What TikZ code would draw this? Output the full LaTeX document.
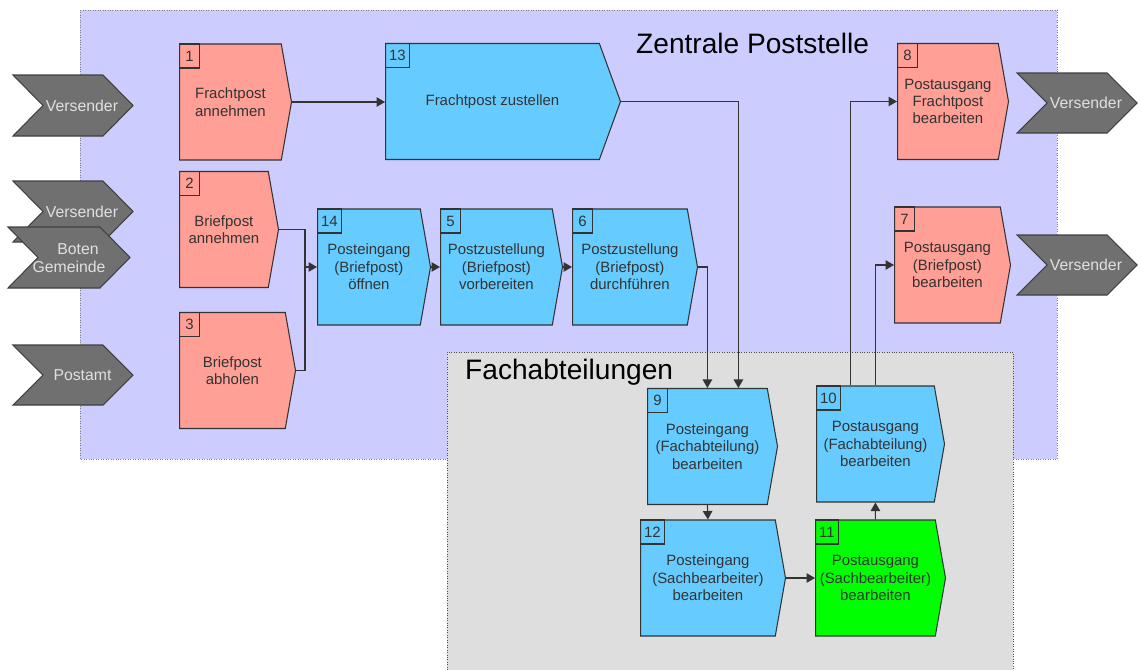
\documentclass[tikz,border=0pt]{standalone}
\usepackage{fontspec}
\setmainfont{Liberation Sans}
\usetikzlibrary{shapes.symbols,arrows.meta,calc}
\definecolor{poststelle}{HTML}{CCCCFF}
\definecolor{fachgrau}{HTML}{DEDEDE}
\definecolor{lachs}{HTML}{FF9F96}
\definecolor{hellblau}{HTML}{66CCFF}
\definecolor{gruen}{HTML}{00FF00}
\definecolor{akteur}{HTML}{707070}
\definecolor{linie}{HTML}{333333}
\tikzset{
  proc/.style={signal, signal to=east, signal from=nowhere, signal pointer angle=160,
    draw=linie, line width=0.6pt, minimum height=2.32cm, inner sep=1pt,
    align=center, text=linie, anchor=west, font=\fontsize{8.5}{9.9}\selectfont},
  annahme/.style={proc, fill=lachs},
  bearb/.style={proc, fill=hellblau},
  nummer/.style={draw=linie, line width=0.6pt, anchor=north west, minimum width=0.4cm,
    minimum height=0.48cm, inner xsep=2pt, inner ysep=0pt, text=linie,
    font=\fontsize{8.5}{9.9}\selectfont},
  akteur/.style={fill=akteur, draw=black!75, line width=0.6pt},
  akteurtext/.style={text=white!88!black, align=center, font=\fontsize{9}{10.2}\selectfont},
  fluss/.style={draw=linie, line width=0.6pt, -{Triangle[length=0.17cm,width=0.19cm]}},
  linie/.style={draw=linie, line width=0.6pt},
  titel/.style={anchor=base west, font=\fontsize{16}{19}\selectfont, text=black}
}
\begin{document}
\begin{tikzpicture}[x=0.02cm, y=-0.02cm]
  \useasboundingbox (0,0) rectangle (1142,670);
  % Bereiche
  \fill[poststelle] (80,10) rectangle (1057,459);
  \draw[densely dotted, gray] (80,10) rectangle (1057,459);
  \fill[fachgrau] (447,352) rectangle (1013,670);
  \draw[densely dotted, black!70] (447,670) -- (447,352) -- (1013,352) -- (1013,670);
  \node[titel] (t1) at (630,53) {Zentrale Poststelle};
  \node[titel] (t2) at (459,379) {Fachabteilungen};

  % Akteure links
  \draw[akteur] (13,75) -- ++(90,0) -- ++(30,30.5) -- ++(-30,30.5) -- ++(-90,0) -- ++(30,-30.5) -- cycle;
  \node[akteurtext] (a1) at (82,105.5) {Versender};
  \draw[akteur] (13,181) -- ++(90,0) -- ++(30,30.5) -- ++(-30,30.5) -- ++(-90,0) -- ++(30,-30.5) -- cycle;
  \node[akteurtext] (a2) at (82,212) {Versender};
  \draw[akteur] (8,227) -- ++(92,0) -- ++(30,30.5) -- ++(-30,30.5) -- ++(-92,0) -- ++(30,-30.5) -- cycle;
  \node[akteurtext] (a3) at (69,258) {\hspace*{0.36cm}Boten\\Gemeinde};
  \draw[akteur] (13,345) -- ++(90,0) -- ++(30,30) -- ++(-30,30) -- ++(-90,0) -- ++(30,-30) -- cycle;
  \node[akteurtext] (a4) at (82.5,375) {Postamt};
  % Akteure rechts
  \draw[akteur] (1017,73) -- ++(90,0) -- ++(30,30) -- ++(-30,30) -- ++(-90,0) -- ++(30,-30) -- cycle;
  \node[akteurtext] (a5) at (1086,103) {Versender};
  \draw[akteur] (1017,235) -- ++(90,0) -- ++(30,30) -- ++(-30,30) -- ++(-90,0) -- ++(30,-30) -- cycle;
  \node[akteurtext] (a6) at (1086,265) {Versender};

  % Poststelle
  \node[annahme, minimum width=2.24cm] (p1) at (179,102) {Frachtpost\\annehmen};
  \node[nummer] (n1) at (p1.west |- p1.north) {1};
  \node[annahme, minimum width=1.98cm] (p2) at (179,229.5) {Briefpost\\annehmen};
  \node[nummer] (n2) at (p2.west |- p2.north) {2};
  \node[annahme, minimum width=2.32cm] (p3) at (179,370.5) {Briefpost\\abholen};
  \node[nummer] (n3) at (p3.west |- p3.north) {3};
  \node[bearb, minimum width=4.7cm, signal pointer angle=140] (p13) at (385,101.5) {Frachtpost zustellen};
  \node[nummer] (n13) at (p13.west |- p13.north) {13};
  \node[bearb, minimum width=2.26cm] (p14) at (317,267) {Posteingang\\(Briefpost)\\öffnen};
  \node[nummer] (n14) at (p14.west |- p14.north) {14};
  \node[bearb, minimum width=2.44cm] (p5) at (440,267) {Postzustellung\\(Briefpost)\\vorbereiten};
  \node[nummer] (n5) at (p5.west |- p5.north) {5};
  \node[bearb, minimum width=2.5cm] (p6) at (572,267) {Postzustellung\\(Briefpost)\\durchführen};
  \node[nummer] (n6) at (p6.west |- p6.north) {6};
  \node[annahme, minimum width=2.22cm] (p8) at (897,101.5) {Postausgang\\Frachtpost\\bearbeiten};
  \node[nummer] (n8) at (p8.west |- p8.north) {8};
  \node[annahme, minimum width=2.32cm] (p7) at (894,265) {Postausgang\\(Briefpost)\\bearbeiten};
  \node[nummer] (n7) at (p7.west |- p7.north) {7};

  % Fachabteilungen
  \node[bearb, minimum width=2.6cm] (p9) at (647,446.5) {Posteingang\\(Fachabteilung)\\bearbeiten};
  \node[nummer] (n9) at (p9.west |- p9.north) {9};
  \node[bearb, minimum width=2.56cm] (p10) at (816,444) {Postausgang\\(Fachabteilung)\\bearbeiten};
  \node[nummer] (n10) at (p10.west |- p10.north) {10};
  \node[bearb, minimum width=2.9cm] (p12) at (640,578) {Posteingang\\(Sachbearbeiter)\\bearbeiten};
  \node[nummer] (n12) at (p12.west |- p12.north) {12};
  \node[proc, fill=gruen, minimum width=2.6cm] (p11) at (815,578) {Postausgang\\(Sachbearbeiter)\\bearbeiten};
  \node[nummer] (n11) at (p11.west |- p11.north) {11};

  % Verbindungen
  \coordinate (j1) at (305,267);
  \draw[fluss] (p1.east) -- (p1.east -| p13.west);
  \draw[linie] (p2.east) -| (j1) |- (p3.east);
  \draw[fluss] (j1) -- (p14.west);
  \draw[fluss] (p14.east) -- (p5.west);
  \draw[fluss] (p5.east) -- (p6.west);
  \draw[fluss] (p6.east) -| (p9.north);
  \draw[fluss] (p13.east) -| ($(p9.north)+(31,0)$);
  \draw[fluss] (p9.south) -- (p12.north);
  \draw[fluss] (p12.east) -- (p12.east -| p11.west);
  \draw[fluss] (p11.north) -- (p10.south);
  \draw[fluss] (p10.north) |- (p7.west);
  \draw[fluss] ($(p10.north)+(-25,0)$) |- (p8.west);
\end{tikzpicture}
\end{document}
